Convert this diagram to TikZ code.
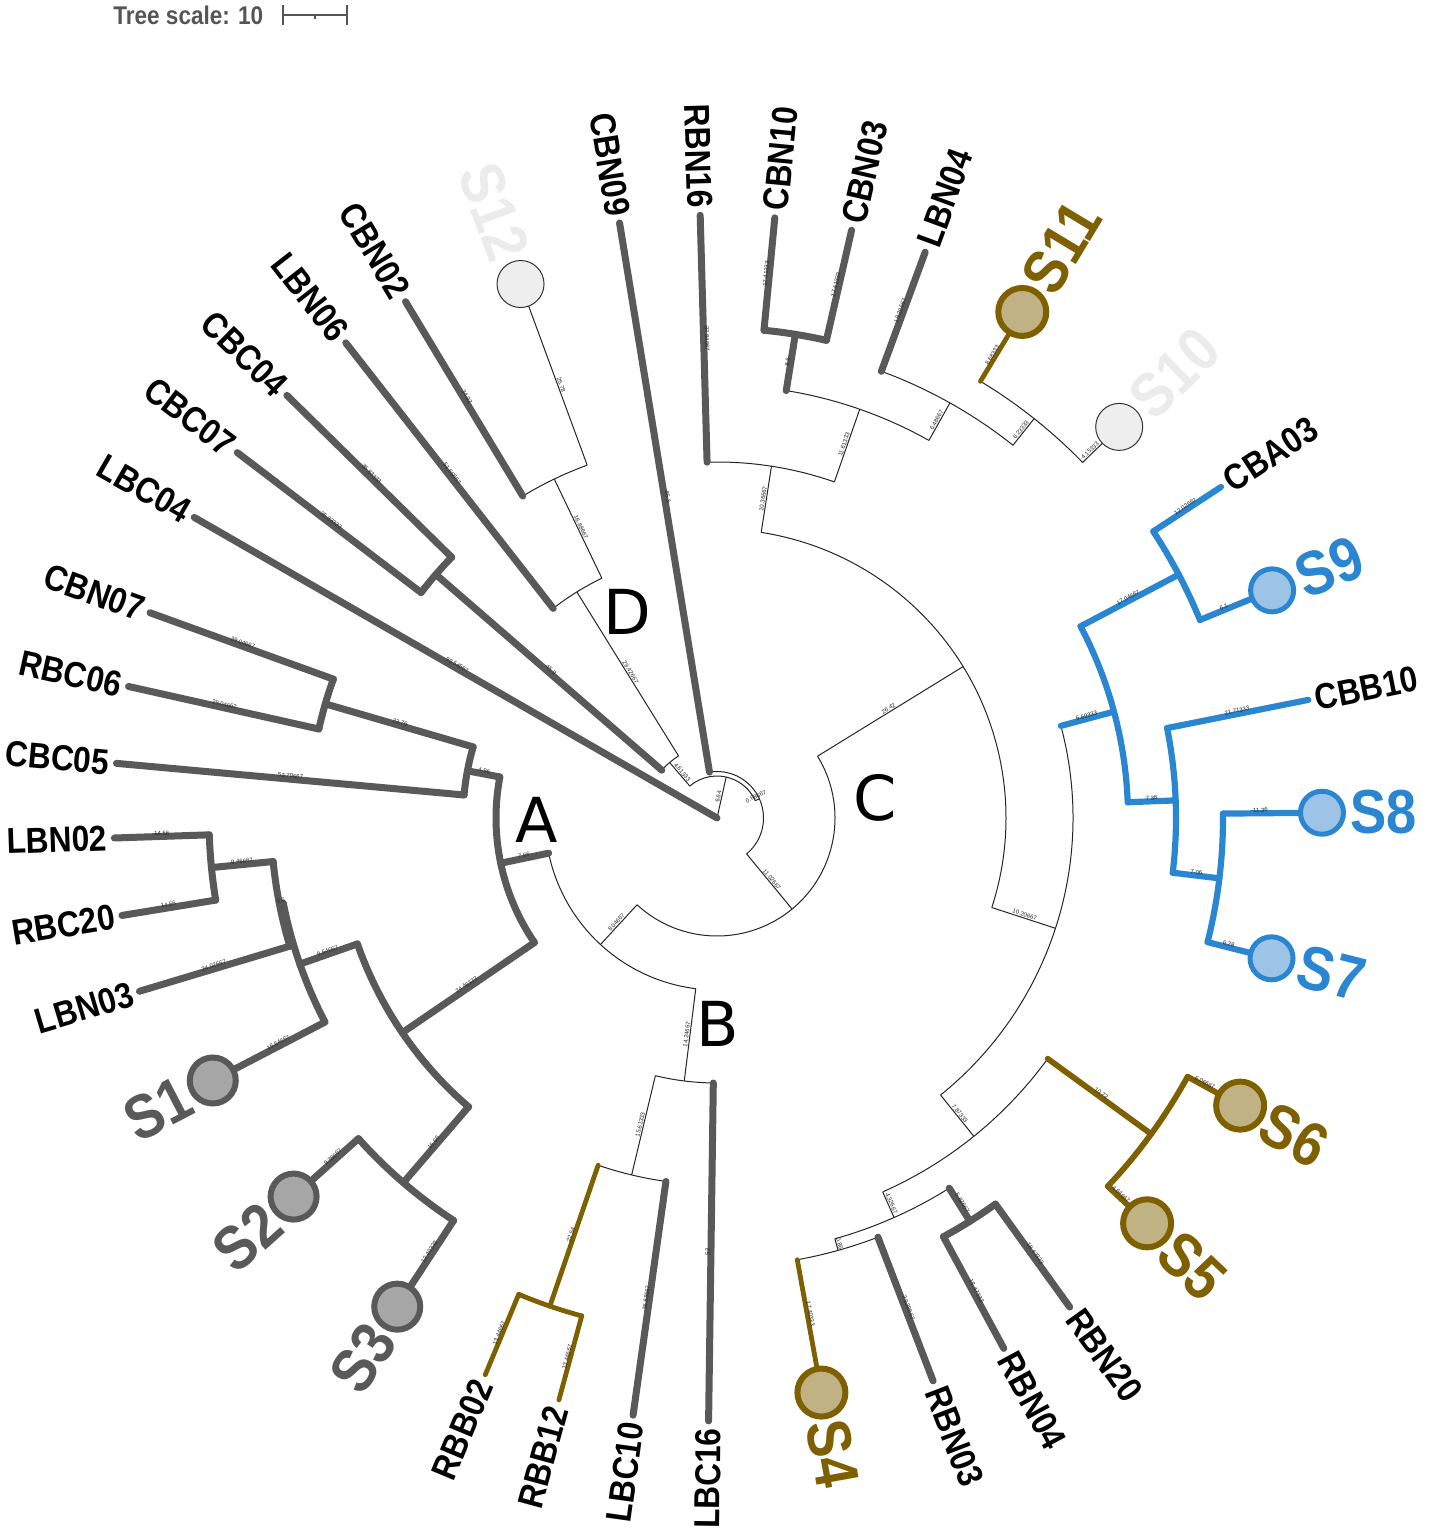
\documentclass[tikz,border=0pt]{standalone}
\usepackage{fontspec}
\setmainfont{Liberation Sans}
\newfontfamily\labfont[FakeStretch=0.88]{Liberation Sans}
\newfontfamily\cladefont{DejaVu Sans}
\definecolor{tgray}{HTML}{595959}
\definecolor{cfill}{HTML}{A6A6A6}
\definecolor{tolive}{HTML}{7F6000}
\definecolor{ofill}{HTML}{C0B283}
\definecolor{tblue}{HTML}{2B86D1}
\definecolor{bfill}{HTML}{9DC3E6}
\definecolor{lgray}{HTML}{EBEBEB}
\definecolor{lfill}{HTML}{EEEEEE}
\definecolor{sgray}{HTML}{555555}
\newcounter{blc}
\newcommand\rbr[4]{\draw[#1] (#2:#3) -- (#2:#4);}
\newcommand\abr[4]{\draw[#1] (#3:#2) arc[start angle=#3,end angle=#4,radius=#2];}
\newcommand\blab[4]{%
  \stepcounter{blc}%
  \pgfmathsetmacro\bm{(#2+#3)/2}%
  \pgfmathsetmacro\brot{ifthenelse(cos(#1)<0,#1+180,#1)}%
  \node[blabel, rotate=\brot] (bl\arabic{blc}) at (#1:\bm) {#4};}
\newcommand\llab[5]{%
  \pgfmathtruncatemacro\lflag{ifthenelse(cos(#2)<0,1,0)}%
  \ifnum\lflag=1
    \node[#4, rotate=#2+180, anchor=east] (#1) at (#2:#3) {#5};%
  \else
    \node[#4, rotate=#2, anchor=west] (#1) at (#2:#3) {#5};%
  \fi}
\tikzset{
  tb/.style={line width=0.5pt, black!85},
  tg/.style={line width=3.5pt, tgray, line cap=round},
  tbl/.style={line width=3.1pt, tblue, line cap=round},
  olA/.style={line width=2.9pt, tolive, line cap=round},
  olB/.style={line width=2.4pt, tolive, line cap=round},
  blabel/.style={font=\fontsize{3}{3}\selectfont, inner sep=0.4pt, anchor=south, text=black!85},
  lab/.style={font=\labfont\bfseries\fontsize{18}{18}\selectfont, inner sep=0pt, text=black},
  slab/.style={font=\labfont\bfseries\fontsize{31}{31}\selectfont, inner sep=0pt},
  ccg/.style={circle, draw=tgray, fill=cfill, line width=3pt, minimum size=23pt, inner sep=0pt},
  cco/.style={circle, draw=tolive, fill=ofill, line width=3pt, minimum size=24pt, inner sep=0pt},
  ccb/.style={circle, draw=tblue, fill=bfill, line width=2.5pt, minimum size=21.5pt, inner sep=0pt},
  ccl/.style={circle, draw=black!80, fill=lfill, line width=0.5pt, minimum size=23.5pt, inner sep=0pt},
  clade/.style={font=\cladefont\fontsize{31}{31}\selectfont, inner sep=0pt, text=black}
}
\begin{document}
\begin{tikzpicture}[x=0.5pt,y=0.5pt]
\useasboundingbox (0,0) rectangle (1429,-1534);
\fill[white] (0,0) rectangle (1429,-1534);
% tree scale
\node[anchor=west, inner sep=0pt, text=sgray, font=\labfont\bfseries\fontsize{12.8}{12.8}\selectfont] (tscale) at (113,-15) {Tree scale: 10};
\coordinate (sbl) at (283,-15);
\coordinate (sbr) at (347,-15);
\draw[sgray, line width=0.8pt] (sbl) -- (sbr);
\draw[sgray, line width=0.8pt] ([yshift=5]sbl) -- ([yshift=-5]sbl);
\draw[sgray, line width=0.8pt] ([yshift=5]sbr) -- ([yshift=-5]sbr);
\draw[sgray, line width=0.8pt] (315,-15) -- (315,-19);
\begin{scope}[shift={(717,-818)}]
% ---------- thin branches ----------
\rbr{tb}{77.4}{0}{42}
\abr{tb}{42}{130.45}{24.4}
\rbr{tb}{130.45}{42}{73}
\abr{tb}{73}{121.8}{139.1}
\rbr{tb}{121.8}{73}{266}
\abr{tb}{266}{115.65}{128}
\rbr{tb}{115.65}{266}{376}
\abr{tb}{376}{110.2}{121.1}
\rbr{tb}{110.2}{376}{569}
\rbr{tb}{24.4}{42}{46.5}
\abr{tb}{46.5}{99.3}{-50.5}
\rbr{tb}{-50.5}{46.5}{118}
\abr{tb}{118}{31.6}{-132.65}
\rbr{tb}{31.6}{118}{289}
\abr{tb}{289}{81.2}{-18.05}
\rbr{tb}{81.2}{289}{356}
\abr{tb}{356}{91.6}{70.75}
\rbr{tb}{70.75}{356}{433}
\abr{tb}{433}{80.8}{60.7}
\rbr{tb}{60.7}{433}{476}
\abr{tb}{476}{69.8}{51.55}
\rbr{tb}{51.55}{476}{510}
\abr{tb}{510}{58.9}{44.2}
\rbr{tb}{44.2}{510}{561}
\rbr{tb}{-18.05}{289}{356}
\abr{tb}{356}{15}{-51.1}
\rbr{tb}{-51.1}{356}{409}
\abr{tb}{409}{-36.05}{-66.1}
\rbr{tb}{-66.1}{409}{437}
\abr{tb}{437}{-57.9}{-74.35}
\rbr{tb}{-74.35}{437}{449}
\abr{tb}{449}{-69}{-79.7}
\rbr{tb}{-132.65}{118}{172}
\abr{tb}{172}{-168.2}{-97.1}
\rbr{tb}{-97.1}{172}{265}
\abr{tb}{265}{-103.45}{-90.8}
\rbr{tb}{-103.45}{265}{367}
\abr{tb}{367}{-108.9}{-98}
% ---------- thick gray ----------
\rbr{tg}{150.1}{0}{603}
\rbr{tg}{139.1}{73}{372}
\abr{tg}{372}{135.5}{142.7}
\rbr{tg}{135.5}{372}{603}
\rbr{tg}{142.7}{372}{603}
\rbr{tg}{128}{266}{603}
\rbr{tg}{121.1}{376}{603}
\rbr{tg}{99.3}{46.5}{603}
\rbr{tg}{91.6}{356}{603}
\rbr{tg}{80.8}{433}{490}
\abr{tg}{490}{84.5}{77.1}
\rbr{tg}{84.5}{490}{603}
\rbr{tg}{77.1}{490}{603}
\rbr{tg}{69.8}{476}{603}
\rbr{tg}{-57.9}{437}{476}
\abr{tg}{476}{-54.2}{-61.6}
\rbr{tg}{-54.2}{476}{603}
\rbr{tg}{-61.6}{476}{603}
\rbr{tg}{-69}{449}{603}
\rbr{tg}{-90.8}{265}{603}
\rbr{tg}{-98}{367}{603}
\rbr{tg}{-168.2}{172}{221}
\abr{tg}{221}{-190.7}{-145.7}
\rbr{tg}{169.3}{221}{254}
\abr{tg}{254}{163.75}{174.8}
\rbr{tg}{174.8}{254}{603}
\rbr{tg}{163.75}{254}{408}
\abr{tg}{408}{160.1}{167.4}
\rbr{tg}{160.1}{408}{603}
\rbr{tg}{167.4}{408}{603}
\rbr{tg}{-145.7}{221}{381}
\abr{tg}{381}{-160.7}{-130.7}
\rbr{tg}{-160.7}{381}{442}
\abr{tg}{442}{-168.85}{-152.5}
\rbr{tg}{-168.85}{442}{446}
\abr{tg}{446}{-174.4}{-163.3}
\rbr{tg}{-174.4}{446}{508}
\abr{tg}{508}{-178.1}{-170.7}
\rbr{tg}{-178.1}{508}{603}
\rbr{tg}{-170.7}{508}{603}
\rbr{tg}{-163.3}{446}{603}
\rbr{tg}{-152.5}{442}{568.5}
\rbr{tg}{-130.7}{381}{481}
\abr{tg}{481}{-138.2}{-123.2}
\rbr{tg}{-138.2}{481}{568}
\rbr{tg}{-123.2}{481}{584}
% ---------- blue ----------
\rbr{tbl}{15}{356}{411}
\abr{tbl}{411}{27.8}{2.2}
\rbr{tbl}{27.8}{411}{522}
\abr{tbl}{522}{33.3}{22.3}
\rbr{tbl}{33.3}{522}{603}
\rbr{tbl}{22.3}{522}{600}
\rbr{tbl}{2.2}{411}{459}
\abr{tbl}{459}{11.3}{-6.85}
\rbr{tbl}{11.3}{459}{603}
\rbr{tbl}{-6.85}{459}{506}
\abr{tbl}{506}{0.5}{-14.2}
\rbr{tbl}{0.5}{506}{605}
\rbr{tbl}{-14.2}{506}{572}
% ---------- olive ----------
\rbr{olA}{-36.05}{409}{537}
\abr{olA}{537}{-28.8}{-43.3}
\rbr{olA}{-28.8}{537}{597}
\rbr{olA}{-43.3}{537}{591}
\rbr{olB}{-79.7}{449}{584}
\rbr{olB}{-108.9}{367}{516}
\abr{olB}{516}{-112.6}{-105.2}
\rbr{olB}{-112.6}{516}{603}
\rbr{olB}{-105.2}{516}{603}
\rbr{olB}{58.9}{510}{591}
% ---------- circles ----------
\node[ccg] (cS1) at (-152.5:568.5) {};
\node[ccg] (cS2) at (-138.2:568) {};
\node[ccg] (cS3) at (-123.2:584) {};
\node[cco] (cS4) at (-79.7:584) {};
\node[cco] (cS5) at (-43.3:591) {};
\node[cco] (cS6) at (-28.8:597) {};
\node[ccb] (cS7) at (-14.2:572) {};
\node[ccb] (cS8) at (0.5:605) {};
\node[ccb] (cS9) at (22.3:600) {};
\node[ccl] (cS10) at (44.2:561) {};
\node[cco] (cS11) at (58.9:591) {};
\node[ccl] (cS12) at (110.2:569) {};
% ---------- branch length labels ----------
\blab{77.4}{0}{42}{6.64}
\blab{130.45}{42}{73}{4.61333}
\blab{24.4}{42}{46.5}{0.68667}
\blab{-50.5}{46.5}{118}{11.02667}
\blab{31.6}{118}{289}{26.42}
\blab{81.2}{289}{356}{10.36667}
\blab{91.6}{356}{603}{37.84667}
\blab{70.75}{356}{433}{11.61333}
\blab{80.8}{433}{490}{8.6}
\blab{84.5}{490}{603}{17.41333}
\blab{77.1}{490}{603}{17.41333}
\blab{60.7}{433}{476}{6.48667}
\blab{69.8}{476}{603}{19.20667}
\blab{51.55}{476}{510}{6.23333}
\blab{58.9}{510}{567}{8.68333}
\blab{44.2}{510}{537}{4.15333}
\blab{-18.05}{289}{356}{10.20667}
\blab{15}{356}{411}{6.69333}
\blab{27.8}{411}{522}{17.04667}
\blab{33.3}{522}{603}{12.02667}
\blab{22.3}{522}{576}{6.1}
\blab{2.2}{411}{459}{7.36}
\blab{11.3}{459}{603}{21.71333}
\blab{-6.85}{459}{506}{7.06}
\blab{0.5}{506}{581}{11.36}
\blab{-14.2}{506}{548}{6.28}
\blab{-51.1}{356}{409}{7.87333}
\blab{-36.05}{409}{537}{10.72}
\blab{-28.8}{537}{573}{6.06667}
\blab{-43.3}{537}{567}{4.64667}
\blab{-66.1}{409}{437}{4.32667}
\blab{-57.9}{437}{476}{5.62667}
\blab{-54.2}{476}{603}{18.47333}
\blab{-61.6}{476}{603}{18.47333}
\blab{-74.35}{437}{449}{0.86}
\blab{-69}{449}{603}{23.38667}
\blab{-79.7}{449}{560}{17.40333}
\blab{-132.65}{118}{172}{8.04667}
\blab{-97.1}{172}{265}{14.24667}
\blab{-90.8}{265}{603}{52}
\blab{-103.45}{265}{367}{15.61333}
\blab{-98}{367}{603}{36.88667}
\blab{-108.9}{367}{516}{22.54}
\blab{-105.2}{516}{603}{13.44667}
\blab{-112.6}{516}{603}{13.44667}
\blab{-168.2}{172}{221}{7.66}
\blab{169.3}{221}{254}{4.96}
\blab{174.8}{254}{603}{53.70667}
\blab{163.75}{254}{408}{23.76}
\blab{160.1}{408}{603}{29.04667}
\blab{167.4}{408}{603}{29.04667}
\blab{-145.7}{221}{381}{24.48333}
\blab{-160.7}{381}{442}{9.64667}
\blab{-168.85}{442}{446}{0.6}
\blab{-174.4}{446}{508}{9.46667}
\blab{-178.1}{508}{603}{14.56}
\blab{-170.7}{508}{603}{14.56}
\blab{-163.3}{446}{603}{24.02667}
\blab{-152.5}{442}{544}{15.64667}
\blab{-130.7}{381}{481}{15.66}
\blab{-138.2}{481}{544}{9.38667}
\blab{-123.2}{481}{560}{12.40333}
\blab{121.8}{73}{266}{29.42667}
\blab{115.65}{266}{376}{16.88667}
\blab{110.2}{376}{545}{25.78}
\blab{121.1}{376}{603}{34.92}
\blab{128}{266}{603}{51.66667}
\blab{139.1}{73}{372}{45.9}
\blab{135.5}{372}{603}{35.83333}
\blab{142.7}{372}{603}{35.83333}
\blab{150.1}{0}{603}{93.54667}
\blab{99.3}{46.5}{603}{85.3}
% ---------- leaf labels ----------
\llab{lLBC04}{150.1}{610}{lab}{LBC04}
\llab{lCBC07}{142.7}{610}{lab}{CBC07}
\llab{lCBC04}{135.5}{610}{lab}{CBC04}
\llab{lLBN06}{128}{610}{lab}{LBN06}
\llab{lCBN02}{121.1}{610}{lab}{CBN02}
\llab{lCBN09}{99.3}{610}{lab}{CBN09}
\llab{lRBN16}{91.6}{610}{lab}{RBN16}
\llab{lCBN10}{84.5}{610}{lab}{CBN10}
\llab{lCBN03}{77.1}{610}{lab}{CBN03}
\llab{lLBN04}{69.8}{610}{lab}{LBN04}
\llab{lCBA03}{33.3}{610}{lab}{CBA03}
\llab{lCBB10}{11.3}{610}{lab}{CBB10}
\llab{lRBN20}{-54.2}{610}{lab}{RBN20}
\llab{lRBN04}{-61.6}{610}{lab}{RBN04}
\llab{lRBN03}{-69}{610}{lab}{RBN03}
\llab{lLBC16}{-90.8}{610}{lab}{LBC16}
\llab{lLBC10}{-98}{610}{lab}{LBC10}
\llab{lRBB12}{-105.2}{610}{lab}{RBB12}
\llab{lRBB02}{-112.6}{610}{lab}{RBB02}
\llab{lLBN03}{-163.3}{610}{lab}{LBN03}
\llab{lRBC20}{-170.7}{610}{lab}{RBC20}
\llab{lLBN02}{-178.1}{610}{lab}{LBN02}
\llab{lCBC05}{174.8}{610}{lab}{CBC05}
\llab{lRBC06}{167.4}{610}{lab}{RBC06}
\llab{lCBN07}{160.1}{610}{lab}{CBN07}
% S labels
\llab{lS1}{-152.5}{596.5}{slab, text=tgray}{S1}
\llab{lS2}{-138.2}{596}{slab, text=tgray}{S2}
\llab{lS3}{-123.2}{612}{slab, text=tgray}{S3}
\llab{lS4}{-79.7}{612}{slab, text=tolive}{S4}
\llab{lS5}{-43.3}{619}{slab, text=tolive}{S5}
\llab{lS6}{-28.8}{625}{slab, text=tolive}{S6}
\llab{lS7}{-14.2}{600}{slab, text=tblue}{S7}
\llab{lS8}{0.5}{633}{slab, text=tblue}{S8}
\llab{lS9}{22.3}{628}{slab, text=tblue}{S9}
\llab{lS10}{44.2}{589}{slab, text=lgray}{S10}
\llab{lS11}{58.9}{619}{slab, text=tolive}{S11}
\llab{lS12}{110.2}{597}{slab, text=lgray}{S12}
\end{scope}
% clade letters
\node[clade] (cA) at (537,-820) {A};
\node[clade] (cB) at (718,-1024) {B};
\node[clade] (cC) at (875,-798) {C};
\node[clade] (cD) at (627,-612) {D};
\end{tikzpicture}
\end{document}
